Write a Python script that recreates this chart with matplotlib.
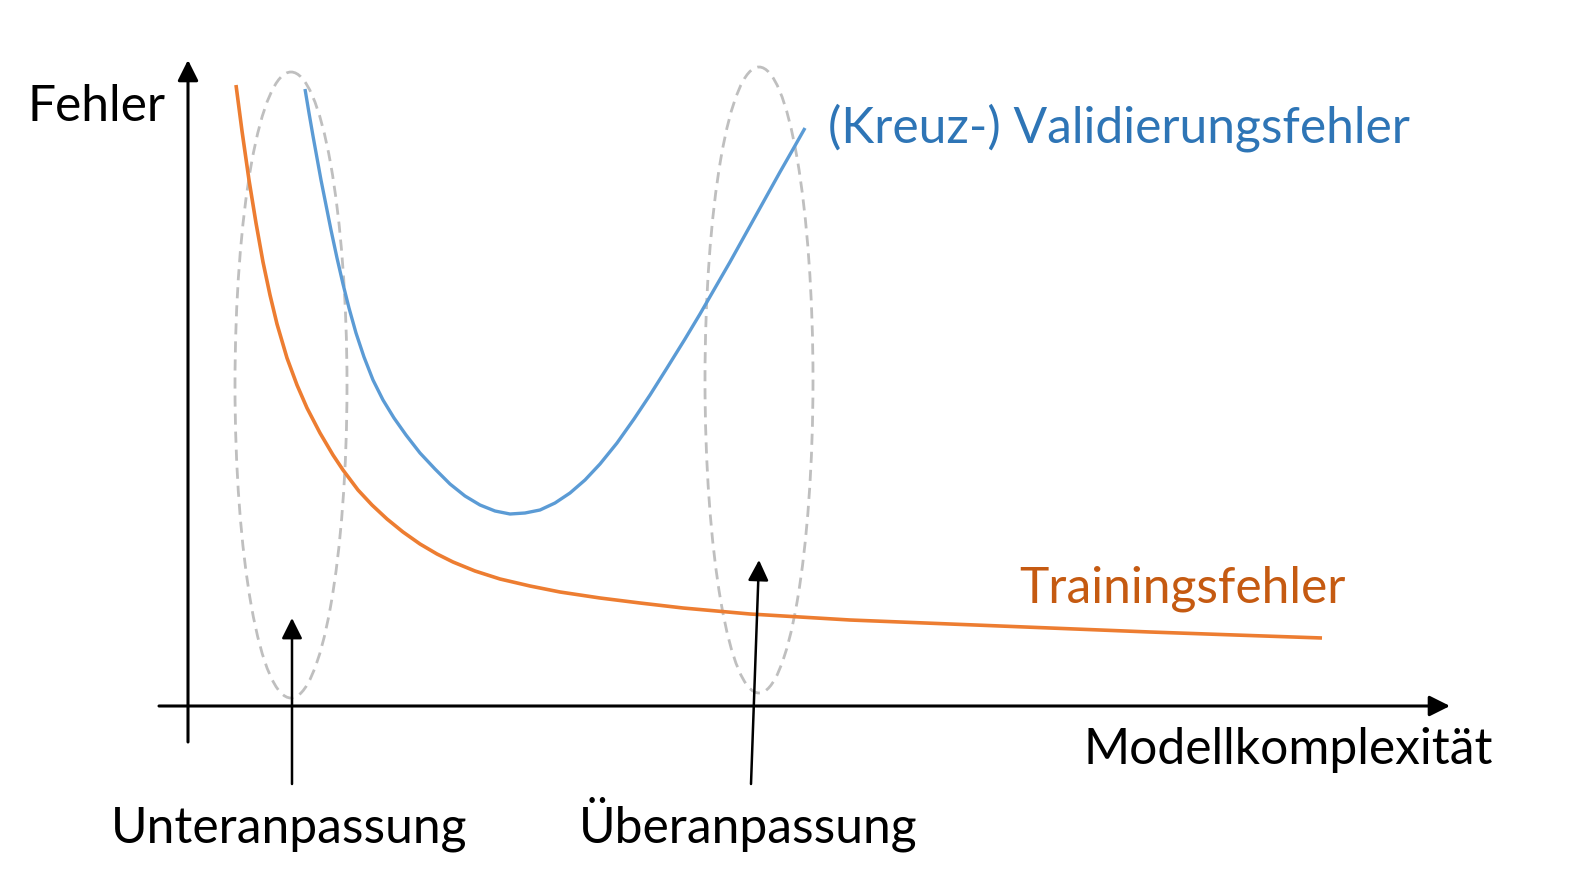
import matplotlib
matplotlib.use('Agg')
import matplotlib.pyplot as plt
from matplotlib.patches import Ellipse

plt.rcParams['font.family'] = ['Lato', 'DejaVu Sans']

# curves (pixel coords, y grows downward)
train_x = [236, 242, 249, 256, 263, 270, 277, 287, 297, 307, 320, 333, 343, 358,
           372, 387, 403, 420, 437, 453, 475, 500, 530, 560, 600, 640, 683, 750,
           800, 850, 925, 1000, 1075, 1150, 1235, 1322]
train_y = [85, 131, 180, 223, 262, 295, 324, 358, 385, 408, 433, 455, 470, 490,
           505, 519, 532, 544, 554, 562, 571, 579, 586, 592, 598, 603, 608, 614,
           617, 620, 623, 626, 629, 632, 635, 638]

val_x = [305, 309, 313, 317, 321, 326, 331, 337, 343, 349, 356, 364, 373, 383,
         394, 406, 420, 435, 450, 465, 480, 495, 510, 525, 540, 555, 570, 585,
         600, 617, 634, 650, 667, 685, 700, 715, 730, 750, 765, 780, 792, 805]
val_y = [89, 113, 136, 158, 180, 205, 230, 258, 284, 308, 333, 357, 380, 400,
         418, 435, 453, 469, 484, 496, 505, 511, 514, 513, 510, 503, 493, 480,
         464, 443, 419, 395, 368, 339, 314, 288, 262, 226, 199, 172, 151, 128]

# dashed ellipses: (center x, center y, width, height)
zones = [(291, 385, 112, 626), (759, 380, 108, 626)]

# pointer arrows: (tail x, tail y, tip x, tip y)
pointers = [(292, 784, 292, 618), (751, 784, 759, 560)]

labels = ['Fehler', '(Kreuz-) Validierungsfehler', 'Trainingsfehler',
          'Modellkomplexität', 'Unteranpassung', 'Überanpassung']
label_pos = [(27, 121), (828, 143), (1019, 603), (1084, 764), (111, 843), (579, 843)]
label_col = ['black', '#2E75B6', '#C55A11', 'black', 'black', 'black']

fig = plt.figure(figsize=(15.89, 8.92), dpi=100)
ax = fig.add_axes([0, 0, 1, 1])
ax.set_xlim(0, 1589)
ax.set_ylim(892, 0)
ax.axis('off')

for cx, cy, w, h in zones:
    ax.add_patch(Ellipse((cx, cy), w, h, fill=False, ec='#BFBFBF', lw=2.0,
                         ls=(0, (4, 2.5))))

ax.plot(train_x, train_y, color='#ED7D31', lw=2.6, solid_capstyle='butt',
        solid_joinstyle='round')
ax.plot(val_x, val_y, color='#5B9BD5', lw=2.4, solid_capstyle='butt',
        solid_joinstyle='round')

axstyle = dict(arrowstyle='-|>,head_length=0.5,head_width=0.25', color='black',
               lw=2.2, mutation_scale=25, shrinkA=0, shrinkB=0)
ax.annotate('', xy=(1450, 706), xytext=(159, 706), arrowprops=axstyle)
ax.annotate('', xy=(188, 60), xytext=(188, 742), arrowprops=axstyle)

pstyle = dict(arrowstyle='-|>,head_length=0.5,head_width=0.25', color='black',
              lw=1.8, mutation_scale=25, shrinkA=0, shrinkB=0)
for x0, y0, x1, y1 in pointers:
    ax.annotate('', xy=(x1, y1), xytext=(x0, y0), arrowprops=pstyle)

for txt, (x, y), c in zip(labels, label_pos, label_col):
    ax.text(x, y, txt, color=c, fontsize=35.8, ha='left', va='baseline')

fig.savefig('out.png', dpi=100)
